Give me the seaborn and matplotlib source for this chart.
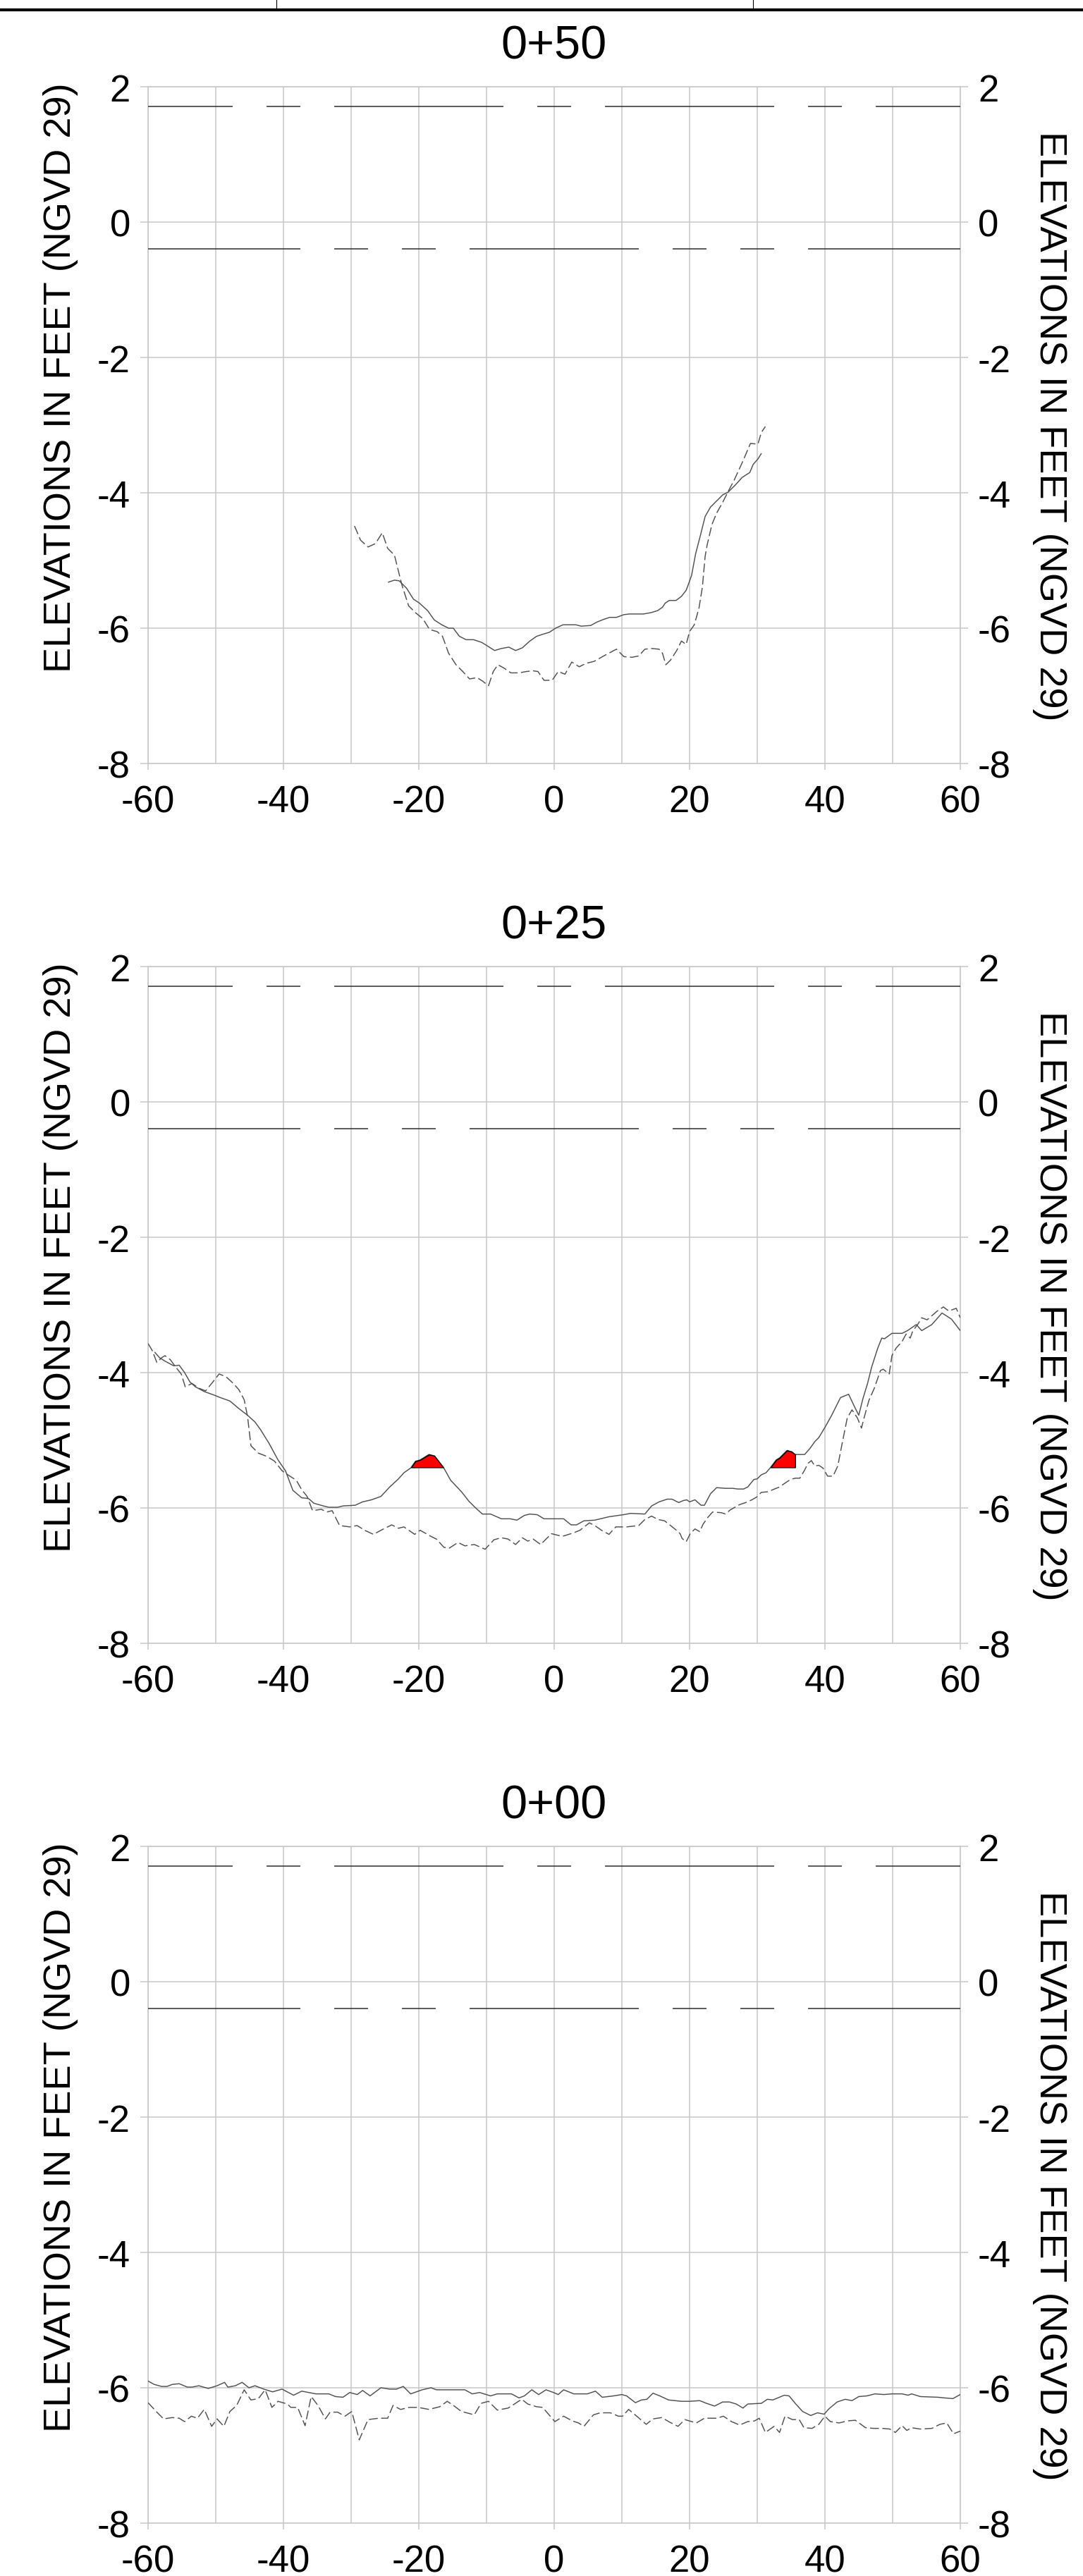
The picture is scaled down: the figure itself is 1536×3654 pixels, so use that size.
"""
Profils en travers des stations 0+50, 0+25 et 0+00 (deux levés superposés).
"""

import numpy as np
import matplotlib
matplotlib.use("Agg")
import matplotlib.pyplot as plt
from matplotlib.lines import Line2D
import seaborn as sns

# ---------------------------------------------------------------- données
station_names = ["0+50", "0+25", "0+00"]
ylabel_text = "ELEVATIONS IN FEET (NGVD 29)"

# niveaux de référence (pieds NGVD 29)
reference_levels = [1.71, -0.40]

# 0+50
s050_solid_x = [-24.5, -23.6, -22.9, -21.8, -20.8, -19.9, -18.7, -17.7, -16.6, -15.6,
                -14.9, -14.0, -13.0, -11.9, -10.7, -9.9, -8.8, -7.8, -6.7, -5.7,
                -4.7, -3.6, -2.6, -1.7, -0.7, 0.2, 1.3, 2.5, 3.2, 4.0,
                5.4, 6.3, 7.3, 8.2, 9.2, 10.3, 11.1, 13.2, 14.3, 15.3,
                16.0, 16.4, 17.0, 18.0, 18.8, 19.5, 19.8, 20.3, 20.9, 21.6,
                22.3, 23.1, 24.0, 24.9, 25.7, 26.8, 27.8, 28.9, 29.4, 30.1, 30.6]
s050_solid_y = [-5.32, -5.29, -5.30, -5.41, -5.57, -5.63, -5.74, -5.88, -5.95, -6.00,
                -6.00, -6.12, -6.17, -6.17, -6.21, -6.26, -6.33, -6.30, -6.28, -6.33,
                -6.29, -6.19, -6.12, -6.09, -6.06, -6.00, -5.95, -5.95, -5.95, -5.97,
                -5.96, -5.91, -5.87, -5.84, -5.84, -5.80, -5.79, -5.79, -5.77, -5.74,
                -5.69, -5.63, -5.59, -5.59, -5.53, -5.44, -5.36, -5.22, -4.90, -4.63,
                -4.35, -4.21, -4.12, -4.03, -3.99, -3.88, -3.77, -3.70, -3.58, -3.50, -3.42]
s050_dashed_x = [-29.5, -28.6, -27.5, -26.4, -25.4, -24.6, -23.6, -22.5, -21.5, -20.5,
                 -19.4, -18.4, -17.3, -16.5, -15.6, -14.5, -13.5, -12.5, -11.4, -10.6,
                 -9.7, -9.0, -8.3, -7.4, -6.4, -5.2, -4.1, -3.1, -2.4, -1.5,
                 -0.3, 0.6, 1.6, 2.6, 3.7, 4.7, 5.9, 7.5, 9.2, 10.3,
                 11.5, 12.5, 13.4, 14.4, 15.5, 16.0, 16.5, 17.2, 18.1, 18.8,
                 19.5, 20.0, 20.7, 21.4, 21.9, 22.3, 22.6, 23.3, 24.0, 24.9,
                 25.7, 26.6, 27.8, 29.0, 30.1, 30.6, 31.2]
s050_dashed_y = [-4.49, -4.70, -4.80, -4.75, -4.59, -4.82, -4.92, -5.36, -5.67, -5.77,
                 -5.86, -6.02, -6.05, -6.12, -6.37, -6.54, -6.64, -6.75, -6.73, -6.78,
                 -6.85, -6.64, -6.54, -6.59, -6.66, -6.66, -6.64, -6.63, -6.64, -6.77,
                 -6.77, -6.64, -6.68, -6.50, -6.57, -6.52, -6.49, -6.40, -6.31, -6.42,
                 -6.43, -6.41, -6.31, -6.30, -6.31, -6.37, -6.54, -6.47, -6.33, -6.19,
                 -6.24, -6.05, -5.95, -5.70, -5.39, -4.94, -4.77, -4.47, -4.30, -4.14,
                 -3.98, -3.81, -3.55, -3.27, -3.28, -3.11, -3.02]

# 0+25
s025_solid_x = [-59.0, -58.3, -57.5, -56.2, -55.4, -54.6, -53.8, -53.0, -51.7, -50.3,
                -49.3, -47.9, -46.6, -45.3, -44.2, -43.4, -42.1, -40.8, -39.7, -38.6,
                -37.3, -36.3, -35.5, -34.1, -33.3, -32.0, -31.2, -29.4, -28.3, -27.0,
                -25.6, -24.3, -23.0, -22.2, -21.2, -20.5, -19.8, -18.5, -17.7, -16.3,
                -15.3, -13.7, -12.6, -11.6, -10.6, -9.4, -7.8, -6.5, -5.5, -4.4,
                -3.6, -2.5, -1.5, 1.4, 2.5, 3.3, 4.4, 6.0, 8.1, 10.2,
                11.3, 13.4, 14.4, 15.5, 16.1, 16.7, 17.4, 18.4, 19.1, 19.6,
                20.0, 20.8, 21.7, 22.2, 23.1, 24.0, 25.3, 26.4, 27.1, 28.0,
                28.6, 29.5, 30.0, 30.6, 31.3, 31.9, 32.8, 33.3, 33.9, 34.4,
                35.1, 35.6, 37.0, 37.8, 38.5, 39.1, 40.0, 41.0, 42.3, 43.5,
                44.4, 45.0, 45.6, 46.3, 46.9, 47.8, 48.4, 48.8, 49.9, 51.4,
                52.2, 53.5, 54.3, 55.8, 57.3, 58.7, 60.0]
s025_solid_y = [-3.70, -3.78, -3.83, -3.90, -3.89, -4.00, -4.14, -4.21, -4.28, -4.33,
                -4.37, -4.42, -4.53, -4.63, -4.73, -4.84, -5.05, -5.29, -5.45, -5.74,
                -5.85, -5.86, -5.93, -5.97, -5.99, -5.99, -5.97, -5.96, -5.91, -5.88,
                -5.83, -5.69, -5.57, -5.48, -5.41, -5.31, -5.29, -5.21, -5.23, -5.41,
                -5.59, -5.76, -5.90, -6.00, -6.09, -6.09, -6.16, -6.16, -6.18, -6.11,
                -6.09, -6.10, -6.16, -6.16, -6.25, -6.25, -6.19, -6.18, -6.13, -6.10,
                -6.08, -6.09, -5.97, -5.91, -5.89, -5.87, -5.87, -5.92, -5.89, -5.88,
                -5.91, -5.88, -5.96, -5.96, -5.79, -5.70, -5.71, -5.71, -5.72, -5.72,
                -5.69, -5.58, -5.57, -5.51, -5.48, -5.41, -5.29, -5.26, -5.20, -5.15,
                -5.17, -5.21, -5.21, -5.12, -5.02, -4.96, -4.81, -4.63, -4.37, -4.32,
                -4.51, -4.63, -4.39, -4.16, -3.92, -3.64, -3.49, -3.50, -3.42, -3.42,
                -3.38, -3.29, -3.38, -3.29, -3.12, -3.21, -3.38]
s025_dashed_x = [-60.0, -59.4, -58.7, -58.0, -57.5, -56.7, -55.9, -55.1, -54.5, -53.5,
                 -52.5, -51.5, -50.6, -49.5, -48.5, -47.4, -46.6, -45.8, -45.3, -44.8,
                 -43.7, -42.4, -41.3, -40.2, -39.2, -38.1, -37.3, -36.5, -35.7, -34.4,
                 -33.6, -32.8, -31.7, -30.2, -29.1, -28.0, -26.7, -25.4, -24.0, -23.0,
                 -22.2, -20.6, -19.8, -18.2, -17.4, -16.3, -15.6, -14.2, -13.2, -11.8,
                 -10.2, -8.9, -7.8, -6.8, -5.7, -4.7, -3.9, -3.1, -2.0, -0.4,
                 1.2, 2.8, 3.8, 5.2, 6.0, 7.0, 8.1, 9.1, 10.7, 12.5,
                 13.4, 14.4, 15.3, 16.3, 17.2, 18.2, 18.6, 18.9, 19.5, 20.1,
                 20.8, 21.5, 22.0, 22.7, 23.4, 24.7, 25.3, 26.0, 26.7, 27.4,
                 28.3, 29.2, 29.9, 30.6, 31.6, 32.3, 33.3, 34.0, 34.9, 35.6,
                 36.3, 37.0, 37.5, 38.0, 38.5, 39.1, 39.7, 40.4, 41.2, 41.9,
                 42.5, 43.3, 44.0, 44.8, 45.4, 45.7, 46.5, 47.3, 48.2, 48.6,
                 49.5, 49.9, 50.5, 51.4, 52.0, 52.6, 53.0, 53.7, 54.3, 55.1,
                 55.9, 56.6, 57.5, 58.3, 59.4, 60.0]
s025_dashed_y = [-3.57, -3.67, -3.85, -3.78, -3.75, -3.81, -3.92, -4.02, -4.21, -4.16,
                 -4.23, -4.27, -4.16, -4.02, -4.06, -4.16, -4.25, -4.40, -4.65, -5.08,
                 -5.19, -5.24, -5.31, -5.45, -5.52, -5.59, -5.73, -5.83, -6.04, -6.02,
                 -6.06, -6.04, -6.26, -6.28, -6.26, -6.33, -6.39, -6.32, -6.25, -6.30,
                 -6.28, -6.39, -6.33, -6.42, -6.46, -6.58, -6.60, -6.51, -6.56, -6.54,
                 -6.61, -6.47, -6.44, -6.46, -6.54, -6.44, -6.49, -6.46, -6.54, -6.38,
                 -6.42, -6.37, -6.33, -6.22, -6.26, -6.33, -6.39, -6.28, -6.28, -6.26,
                 -6.17, -6.12, -6.17, -6.19, -6.26, -6.34, -6.38, -6.45, -6.50, -6.38,
                 -6.31, -6.35, -6.24, -6.14, -6.06, -6.07, -6.09, -6.03, -5.99, -5.95,
                 -5.92, -5.88, -5.84, -5.77, -5.76, -5.73, -5.69, -5.64, -5.58, -5.56,
                 -5.56, -5.44, -5.34, -5.30, -5.38, -5.37, -5.41, -5.53, -5.53, -5.38,
                 -5.07, -4.67, -4.55, -4.67, -4.82, -4.70, -4.41, -4.23, -3.97, -3.95,
                 -4.02, -3.75, -3.64, -3.54, -3.43, -3.49, -3.38, -3.29, -3.19, -3.22,
                 -3.15, -3.09, -3.03, -3.09, -3.05, -3.19]
# zones remplies en rouge (au-dessus de la cote -5.4)
s025_fill_level = -5.4
s025_fill_windows = [(-22.0, -16.0), (31.0, 35.7)]

# 0+00
s000_solid_x = [-60.0, -59.1, -58.0, -57.2, -56.4, -55.4, -54.2, -53.5, -52.5, -51.1,
                -49.8, -48.7, -48.2, -47.1, -46.1, -45.1, -44.2, -42.9, -41.6, -40.2,
                -38.5, -37.3, -35.2, -33.3, -32.3, -31.2, -30.2, -29.1, -28.3, -27.2,
                -25.6, -24.3, -23.3, -22.3, -21.2, -19.5, -18.2, -17.4, -13.2, -12.1,
                -11.0, -9.4, -8.4, -6.3, -5.2, -4.4, -3.3, -2.3, -1.2, -0.1,
                0.6, 1.4, 2.9, 4.9, 6.1, 7.1, 8.8, 10.0, 10.7, 12.0,
                12.9, 13.7, 14.6, 15.6, 16.9, 18.8, 20.0, 21.5, 22.5, 23.7,
                24.9, 25.9, 26.9, 27.9, 28.6, 30.6, 31.5, 32.3, 34.0, 34.7,
                35.7, 36.7, 37.9, 38.9, 39.9, 40.6, 41.8, 43.0, 44.0, 45.0,
                46.2, 47.4, 48.7, 49.9, 51.4, 52.3, 52.8, 54.1, 56.7, 57.7,
                58.9, 60.0]
s000_solid_y = [-5.90, -5.95, -5.98, -5.98, -5.95, -5.94, -5.99, -5.99, -5.97, -6.01,
                -5.97, -5.92, -5.99, -5.97, -5.92, -6.00, -5.97, -6.02, -6.06, -6.02,
                -6.11, -6.05, -6.09, -6.09, -6.13, -6.14, -6.07, -6.10, -6.04, -6.12,
                -6.00, -6.02, -6.02, -5.98, -6.09, -6.03, -6.00, -6.03, -6.03, -6.09,
                -6.07, -6.12, -6.09, -6.09, -6.15, -6.12, -6.03, -6.10, -6.03, -6.07,
                -6.10, -6.03, -6.09, -6.09, -6.05, -6.14, -6.12, -6.10, -6.12, -6.22,
                -6.18, -6.17, -6.08, -6.12, -6.18, -6.20, -6.20, -6.19, -6.23, -6.27,
                -6.21, -6.21, -6.24, -6.30, -6.24, -6.23, -6.17, -6.18, -6.11, -6.12,
                -6.24, -6.35, -6.41, -6.37, -6.39, -6.31, -6.21, -6.17, -6.19, -6.13,
                -6.12, -6.09, -6.10, -6.09, -6.09, -6.11, -6.09, -6.13, -6.14, -6.15,
                -6.16, -6.10]
s000_dashed_x = [-60.0, -58.8, -57.7, -56.4, -55.4, -54.6, -53.6, -52.7, -51.7, -50.6,
                 -49.8, -48.8, -47.9, -46.9, -45.8, -44.8, -43.7, -42.7, -41.7, -40.8,
                 -39.4, -38.9, -37.9, -36.8, -35.9, -34.9, -33.8, -33.1, -32.0, -30.9,
                 -29.9, -28.8, -27.5, -25.9, -24.6, -23.8, -22.7, -21.4, -20.1, -18.5,
                 -16.9, -15.8, -14.9, -13.7, -11.8, -10.8, -9.7, -8.4, -6.8, -4.8,
                 -3.9, -2.6, -1.7, 0.1, 1.4, 2.7, 3.6, 4.4, 5.8, 6.8,
                 8.3, 9.5, 10.1, 11.0, 12.2, 13.6, 14.6, 15.9, 17.1, 18.3,
                 19.3, 21.0, 22.2, 24.0, 25.0, 26.2, 27.4, 28.6, 29.6, 30.3,
                 31.2, 32.5, 33.3, 34.1, 35.2, 36.2, 36.9, 38.1, 39.1, 40.0,
                 40.8, 42.1, 43.3, 44.5, 46.0, 47.2, 48.5, 49.6, 50.4, 51.4,
                 52.1, 52.8, 54.1, 55.8, 57.0, 58.0, 59.0, 60.0]
s000_dashed_y = [-6.22, -6.35, -6.46, -6.44, -6.45, -6.50, -6.42, -6.45, -6.32, -6.57,
                 -6.46, -6.57, -6.35, -6.26, -6.03, -6.18, -6.16, -6.03, -6.29, -6.20,
                 -6.24, -6.29, -6.29, -6.56, -6.13, -6.26, -6.46, -6.36, -6.36, -6.42,
                 -6.35, -6.77, -6.47, -6.45, -6.45, -6.26, -6.32, -6.29, -6.29, -6.32,
                 -6.28, -6.20, -6.26, -6.35, -6.40, -6.23, -6.20, -6.33, -6.30, -6.17,
                 -6.24, -6.28, -6.29, -6.50, -6.42, -6.49, -6.52, -6.57, -6.40, -6.37,
                 -6.37, -6.42, -6.42, -6.32, -6.42, -6.54, -6.46, -6.44, -6.51, -6.57,
                 -6.47, -6.52, -6.45, -6.45, -6.42, -6.50, -6.55, -6.50, -6.49, -6.45,
                 -6.66, -6.57, -6.66, -6.42, -6.47, -6.47, -6.59, -6.60, -6.54, -6.42,
                 -6.50, -6.52, -6.49, -6.48, -6.59, -6.60, -6.60, -6.61, -6.66, -6.56,
                 -6.63, -6.59, -6.61, -6.60, -6.54, -6.52, -6.68, -6.64]

# ---------------------------------------------------------------- style
sns.set_style("white")
plt.rcParams["font.family"] = ["Liberation Sans", "DejaVu Sans"]
plt.rcParams["axes.unicode_minus"] = False
plt.rcParams["lines.scale_dashes"] = False
plt.rcParams["text.color"] = "black"
plt.rcParams["axes.labelcolor"] = "black"
plt.rcParams["axes.titlecolor"] = "black"

GRID = "#c8c8c8"
CURVE = "#505050"
REFLINE = "#2e2e2e"

FIG_W, FIG_H = 15.36, 36.55
AX_LEFT, AX_W, AX_H = 0.1367, 0.75, 0.26265
AX_BOTTOMS = [0.7034, 0.36197, 0.02052]

# motifs des lignes de référence, en pieds (décalage, séquence)
ft_pt = AX_W * FIG_W * 72 / 120.0
ref_patterns = [(12.5, (25, 5, 5, 5)), (2.5, (25, 5, 5, 5, 5, 5))]


def draw_station(ax, name, sx, sy, dx, dy, fill_level=None, fill_windows=()):
    """Trace un profil : levé plein, levé tireté, lignes de référence"""
    ax.set_xlim(-60, 60)
    ax.set_ylim(-8, 2)

    for level, (off, seq) in zip(reference_levels, ref_patterns):
        ax.axhline(level, color=REFLINE, linewidth=1.1,
                   linestyle=(off * ft_pt, [s * ft_pt for s in seq]), zorder=3)

    sns.lineplot(x=dx, y=dy, ax=ax, color=CURVE, linewidth=1.05,
                 linestyle=(0, (9, 3.5)), sort=False, estimator=None, zorder=4)
    sns.lineplot(x=sx, y=sy, ax=ax, color=CURVE, linewidth=1.05,
                 sort=False, estimator=None, zorder=4)

    if fill_level is not None:
        xs = np.array(sx)
        ys = np.array(sy)
        for lo, hi in fill_windows:
            mask = (xs >= lo) & (xs <= hi) & (ys >= fill_level)
            ax.fill_between(xs, ys, fill_level, where=mask, interpolate=True,
                            facecolor="#ff0000", edgecolor="black",
                            linewidth=1.0, zorder=5)

    ax.set_xticks(np.arange(-60, 61, 20))
    ax.set_xticks(np.arange(-50, 51, 20), minor=True)
    ax.set_yticks(np.arange(-8, 3, 2))
    ax.grid(True, which="both", color=GRID, linewidth=1.1)
    ax.tick_params(axis="x", which="major", bottom=True, direction="out",
                   length=6.5, width=1.1, color=GRID, pad=15, labelsize=38,
                   labelcolor="black")
    ax.tick_params(axis="x", which="minor", bottom=False, length=0)
    ax.tick_params(axis="y", left=True, direction="out", length=8, width=1.1,
                   color=GRID, pad=10, labelsize=38, labelcolor="black")
    for sp in ax.spines.values():
        sp.set_color(GRID)
        sp.set_linewidth(1.1)

    ax.set_xlabel("")
    ax.set_title(name, fontsize=48, pad=29.5, color="black")
    ax.set_ylabel(ylabel_text, fontsize=39, va="center", color="black")
    ax.yaxis.set_label_coords(-0.1076, 0.571)

    ax2 = ax.twinx()
    ax2.set_ylim(-8, 2)
    ax2.set_yticks(np.arange(-8, 3, 2))
    ax2.tick_params(axis="y", right=True, direction="out", length=8, width=1.1,
                    color=GRID, pad=10, labelsize=38, labelcolor="black")
    for sp in ax2.spines.values():
        sp.set_visible(False)
    ax2.set_ylabel(ylabel_text, fontsize=39, rotation=-90, va="center", color="black")
    ax2.yaxis.set_label_coords(1.110, 0.5)


fig = plt.figure(figsize=(FIG_W, FIG_H), dpi=100)

stations = [
    (s050_solid_x, s050_solid_y, s050_dashed_x, s050_dashed_y, None, ()),
    (s025_solid_x, s025_solid_y, s025_dashed_x, s025_dashed_y,
     s025_fill_level, s025_fill_windows),
    (s000_solid_x, s000_solid_y, s000_dashed_x, s000_dashed_y, None, ()),
]

for name, bottom, (sx, sy, dx, dy, lvl, wins) in zip(station_names, AX_BOTTOMS, stations):
    ax = fig.add_axes([AX_LEFT, bottom, AX_W, AX_H])
    draw_station(ax, name, sx, sy, dx, dy, lvl, wins)

# reste du cartouche en haut de la feuille
fig.add_artist(Line2D([0, 1], [1 - 15 / 3655, 1 - 15 / 3655], transform=fig.transFigure,
                      color="black", linewidth=3.0))
for xp in (392, 1068):
    fig.add_artist(Line2D([xp / 1536, xp / 1536], [1 - 13 / 3655, 1.0],
                          transform=fig.transFigure, color="black", linewidth=0.8))

fig.savefig("out.png", dpi=100)
plt.close(fig)
